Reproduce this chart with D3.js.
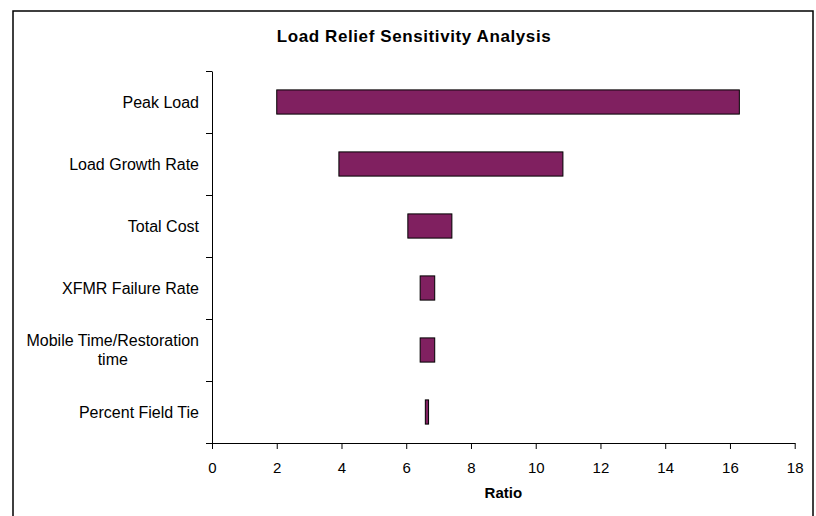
<!DOCTYPE html>
<html>
<head>
<meta charset="utf-8">
<script src="https://cdn.jsdelivr.net/npm/d3@7"></script>
<style>
    body { margin: 0; background: #fff; }
    svg text { font-family: "Liberation Sans", Arial, sans-serif; fill: #000; }
</style>
</head>
<body>
<div id="chart-area"></div>
<script>
// data
var categories = ["Peak Load", "Load Growth Rate", "Total Cost", "XFMR Failure Rate",
    "Mobile Time/Restoration|time", "Percent Field Tie"];
var lowValues = [2.0, 3.92, 6.05, 6.43, 6.43, 6.59];
var highValues = [16.29, 10.84, 7.41, 6.88, 6.88, 6.69];
var xTicks = [0, 2, 4, 6, 8, 10, 12, 14, 16, 18];

/*
 * Tornado - Object constructor function
 */
Tornado = function(_parentElement) {
    this.parentElement = _parentElement;
    this.initVis();
}

Tornado.prototype.initVis = function() {
    var vis = this;
    vis.margin = {top: 71, right: 21.3, bottom: 73, left: 212};
    vis.width = 816 - vis.margin.left - vis.margin.right,
        vis.height = 516 - vis.margin.top - vis.margin.bottom;

    vis.root = d3.select("#" + vis.parentElement).append("svg")
        .attr("width", 816)
        .attr("height", 516);

    // chart frame
    vis.root.append("rect")
        .attr("x", 13).attr("y", 11)
        .attr("width", 800).attr("height", 520)
        .attr("fill", "none")
        .attr("stroke", "#000")
        .attr("stroke-width", 1.5);

    vis.root.append("text")
        .attr("x", 414).attr("y", 42)
        .attr("text-anchor", "middle")
        .style("font-size", "17px")
        .style("font-weight", "bold")
        .style("letter-spacing", "0.6px")
        .text("Load Relief Sensitivity Analysis");

    vis.svg = vis.root.append("g")
        .attr("transform", "translate(" + vis.margin.left + "," + vis.margin.top + ")");

    vis.x = d3.scaleLinear().domain([0, 18]).range([0, vis.width]);
    vis.y = d3.scaleBand().domain(categories).range([0, vis.height]).padding(0);
    vis.yEdge = d3.scaleLinear().domain([0, categories.length]).range([0, vis.height]);

    vis.updateVis();
}

Tornado.prototype.updateVis = function() {
    var vis = this;
    var barH = vis.y.bandwidth() * 0.39;

    vis.svg.selectAll("rect.bar")
        .data(categories)
        .enter().append("rect")
        .attr("class", "bar")
        .attr("x", function(d, i) { return vis.x(lowValues[i]); })
        .attr("y", function(d) { return vis.y(d) + vis.y.bandwidth() / 2 - barH / 2; })
        .attr("width", function(d, i) { return vis.x(highValues[i]) - vis.x(lowValues[i]); })
        .attr("height", barH)
        .attr("fill", "#802060")
        .attr("stroke", "#000")
        .attr("stroke-width", 1);

    // y axis: ticks between categories
    var yAxis = d3.axisLeft(vis.yEdge)
        .tickValues(d3.range(0, categories.length + 1))
        .tickFormat("")
        .tickSize(6)
        .tickSizeOuter(0);
    vis.svg.append("g").call(yAxis);

    var xAxis = d3.axisBottom(vis.x)
        .tickValues(xTicks)
        .tickSize(6)
        .tickSizeOuter(0)
        .tickPadding(13.6);
    var gx = vis.svg.append("g")
        .attr("transform", "translate(0," + vis.height + ")")
        .call(xAxis);
    gx.selectAll("text")
        .style("font-size", "15px")
        .style("font-family", "'Liberation Sans', Arial, sans-serif");
    vis.svg.selectAll(".domain, .tick line").attr("stroke", "#000");

    vis.svg.append("text")
        .attr("x", vis.width / 2)
        .attr("y", vis.height + 55)
        .attr("text-anchor", "middle")
        .style("font-size", "15px")
        .style("font-weight", "bold")
        .text("Ratio");

    // category labels, wrapped ones centred on the widest line
    categories.forEach(function(c) {
        var lines = c.split("|");
        var cy = vis.y(c) + vis.y.bandwidth() / 2;
        var t = vis.svg.append("text")
            .style("font-size", "16px")
            .attr("text-anchor", lines.length > 1 ? "middle" : "end");
        lines.forEach(function(l, k) {
            t.append("tspan")
                .attr("y", cy + 5.8 - (lines.length - 1) * 9.5 + k * 19)
                .text(l);
        });
        if (lines.length > 1) {
            var w = d3.max(t.selectAll("tspan").nodes(), function(n) { return n.getComputedTextLength(); });
            t.selectAll("tspan").attr("x", -13 - w / 2);
        } else {
            t.selectAll("tspan").attr("x", -13);
        }
    });
}

new Tornado("chart-area");
</script>
</body>
</html>
